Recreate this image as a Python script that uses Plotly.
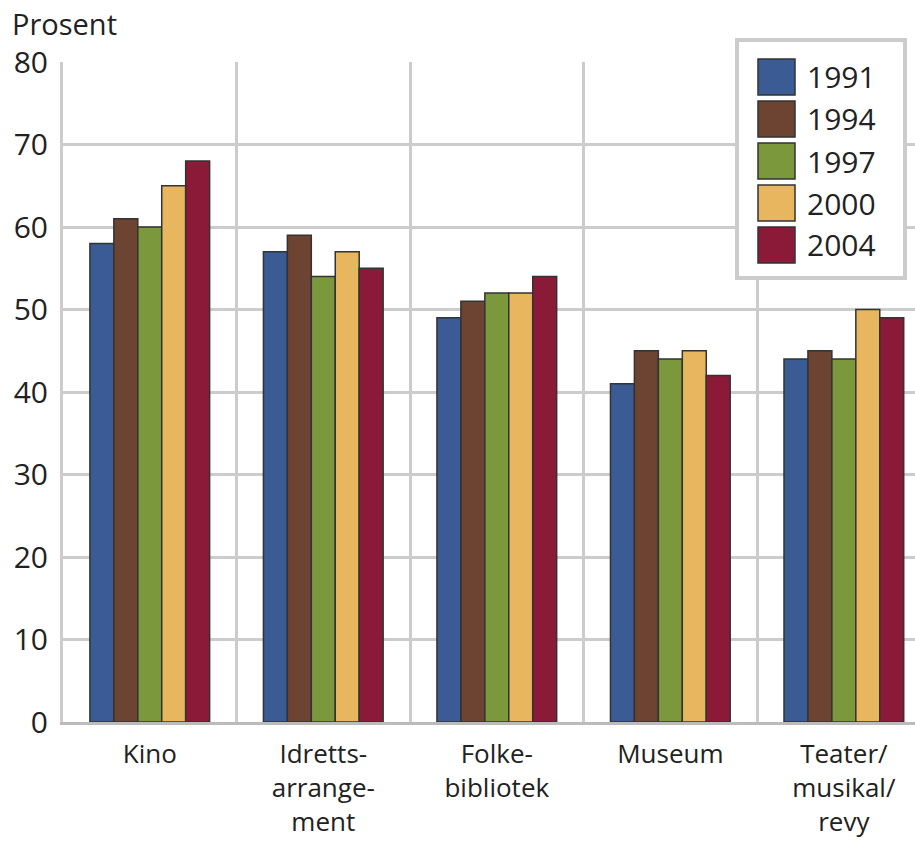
import plotly.graph_objects as go

categories = ["Kino", "Idretts-<br>arrange-<br>ment", "Folke-<br>bibliotek", "Museum", "Teater/<br>musikal/<br>revy"]
years = ["1991", "1994", "1997", "2000", "2004"]
values = {
    "1991": [58, 57, 49, 41, 44],
    "1994": [61, 59, 51, 45, 45],
    "1997": [60, 54, 52, 44, 44],
    "2000": [65, 57, 52, 45, 50],
    "2004": [68, 55, 54, 42, 49],
}
colors = ["#3A5B93", "#6D4331", "#7B983C", "#E7B65E", "#8A1A37"]
y_ticks = [0, 10, 20, 30, 40, 50, 60, 70, 80]

FONT = "Open Sans"
TXT = "#222222"
GRID = "#cccccc"

fig = go.Figure()
for yr, col in zip(years, colors):
    fig.add_trace(go.Bar(
        x=categories, y=values[yr], name=yr,
        marker=dict(color=col, line=dict(color="#333333", width=1.5)),
        showlegend=False,
    ))

# plot area geometry (px)
W, H = 915, 841
L, R, T, B = 63, 0, 62, 119
pw, ph = W - L - R, H - T - B

def px_x(x):
    return (x - L) / pw

def px_y(y):
    return (H - B - y) / ph

shapes = []
annotations = []
# legend box
shapes.append(dict(type="rect", xref="paper", yref="paper",
                   x0=px_x(737), x1=px_x(905), y0=px_y(278), y1=px_y(40),
                   fillcolor="white", line=dict(color=GRID, width=4), layer="above"))
for i, (yr, col) in enumerate(zip(years, colors)):
    top = 59 + i * 42
    shapes.append(dict(type="rect", xref="paper", yref="paper",
                       x0=px_x(758), x1=px_x(795), y0=px_y(top + 36), y1=px_y(top),
                       fillcolor=col, line=dict(color="#333333", width=1.5), layer="above"))
    annotations.append(dict(xref="paper", yref="paper", x=px_x(805), y=px_y(top + 18),
                            text=yr, showarrow=False, xanchor="left", yanchor="middle",
                            font=dict(family=FONT, size=30, color=TXT)))

annotations.append(dict(xref="paper", yref="paper", x=px_x(10), y=px_y(24),
                        text="Prosent", showarrow=False, xanchor="left", yanchor="middle",
                        font=dict(family=FONT, size=29, color=TXT)))

fig.update_layout(
    width=W, height=H,
    margin=dict(l=L, r=R, t=T, b=B, pad=0, autoexpand=False),
    paper_bgcolor="white", plot_bgcolor="white",
    barmode="group", bargap=0.31, bargroupgap=0,
    font=dict(family=FONT, size=29, color=TXT),
    shapes=shapes, annotations=annotations,
    showlegend=False,
    xaxis=dict(
        range=[-0.5, 4.41], tickson="boundaries", showgrid=True,
        gridcolor=GRID, gridwidth=3, ticks="", showline=True,
        linecolor="#bbbbbb", linewidth=3, ticklabelstandoff=7,
        tickfont=dict(family=FONT, size=26, color=TXT),
        automargin=False, fixedrange=True,
    ),
    yaxis=dict(
        range=[0, 80], tickvals=y_ticks, showgrid=True,
        gridcolor=GRID, gridwidth=3, ticks="", zeroline=False,
        showline=True, linecolor=GRID, linewidth=3,
        ticklabelstandoff=6,
        tickfont=dict(family=FONT, size=30, color=TXT),
        automargin=False, fixedrange=True,
    ),
)

fig.write_html("out.html")
